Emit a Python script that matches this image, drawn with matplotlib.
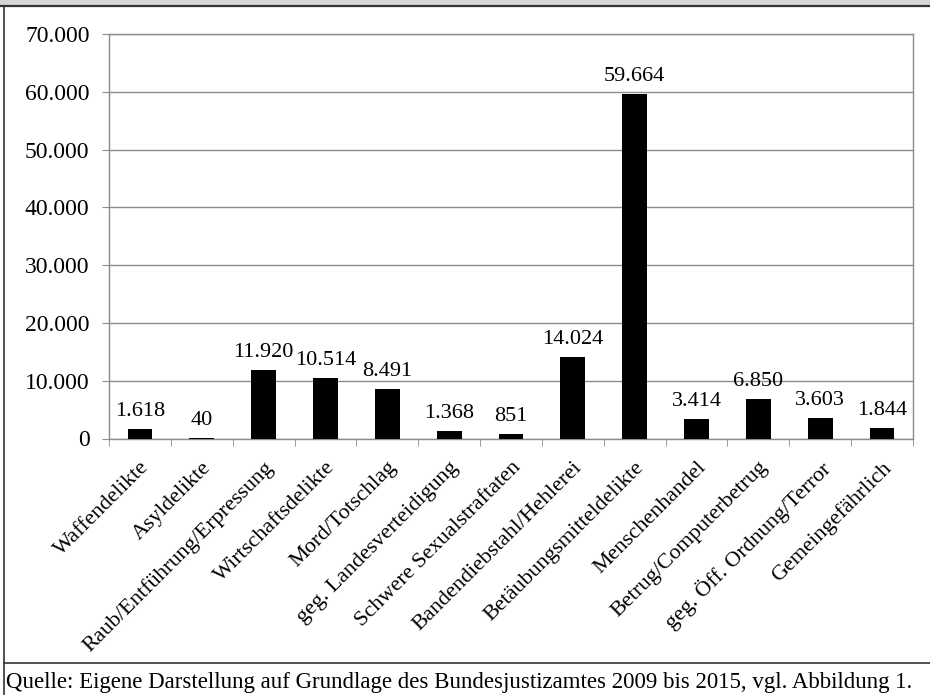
import matplotlib
matplotlib.use("Agg")
import matplotlib.pyplot as plt
from matplotlib.lines import Line2D
from matplotlib.patches import Rectangle
from matplotlib.ticker import FuncFormatter, MultipleLocator

plt.rcParams['font.family'] = ['Liberation Serif', 'DejaVu Serif']

categories = [
    "Waffendelikte", "Asyldelikte", "Raub/Entführung/Erpressung",
    "Wirtschaftsdelikte", "Mord/Totschlag", "geg. Landesverteidigung",
    "Schwere Sexualstraftaten", "Bandendiebstahl/Hehlerei",
    "Betäubungsmitteldelikte", "Menschenhandel", "Betrug/Computerbetrug",
    "geg. Öff. Ordnung/Terror", "Gemeingefährlich",
]
values = [1618, 40, 11920, 10514, 8491, 1368, 851, 14024, 59664, 3414, 6850, 3603, 1844]
source_note = "Quelle: Eigene Darstellung auf Grundlage des Bundesjustizamtes 2009 bis 2015, vgl. Abbildung 1."

W, H = 930, 695
fig = plt.figure(figsize=(W / 100, H / 100), dpi=100)

def fx(px):
    return px / W

def fy(py):
    return 1 - py / H

def de_format(v):
    return f"{int(round(v)):,}".replace(",", ".")

# header band and frame
fig.patches.append(Rectangle((0, fy(5)), 1, 5 / H, transform=fig.transFigure,
                             facecolor="#d6d6d6", edgecolor="none", zorder=0))
fig.lines.append(Line2D([0, 1], [fy(5.5), fy(5.5)], transform=fig.transFigure,
                        color="#333333", lw=1.6))
fig.lines.append(Line2D([fx(3.5), fx(3.5)], [0, fy(5.5)], transform=fig.transFigure,
                        color="#333333", lw=1.2))
fig.lines.append(Line2D([fx(3.5), 1], [fy(663), fy(663)], transform=fig.transFigure,
                        color="#333333", lw=1.2))

ax = fig.add_axes([fx(109), fy(438.5), fx(913) - fx(109), (438.5 - 34) / H])

x = list(range(len(categories)))
ax.bar(x, values, width=0.4, color="black", zorder=3)

ax.set_xlim(-0.5, len(categories) - 0.5)
ax.set_ylim(0, 70000)
ax.yaxis.set_major_locator(MultipleLocator(10000))
ax.yaxis.set_major_formatter(FuncFormatter(lambda v, p: de_format(v)))

ax.grid(axis="y", color="#8c8c8c", lw=1.0, zorder=0)
for s in ax.spines.values():
    s.set_color("#8c8c8c")
    s.set_linewidth(1.0)

ax.set_xticks([i + 0.5 for i in x[:-1]] + [-0.5, len(categories) - 0.5], minor=True)
ax.set_xticks(x)
ax.set_xticklabels(categories, rotation=45, ha="right", rotation_mode="anchor",
                   fontsize=16)
ax.tick_params(axis="x", which="major", length=0, pad=14)
ax.tick_params(axis="x", which="minor", length=5, color="#8c8c8c", direction="out")
ax.tick_params(axis="y", length=5, color="#8c8c8c", labelsize=17, pad=9)

for xi, v in zip(x, values):
    ax.annotate(de_format(v), (xi, v), xytext=(0, 13), textcoords="offset pixels",
                ha="center", va="baseline", fontsize=16)

fig.text(fx(6), fy(688), source_note, ha="left", va="baseline", fontsize=16.5)

fig.savefig("out.png", dpi=100)
